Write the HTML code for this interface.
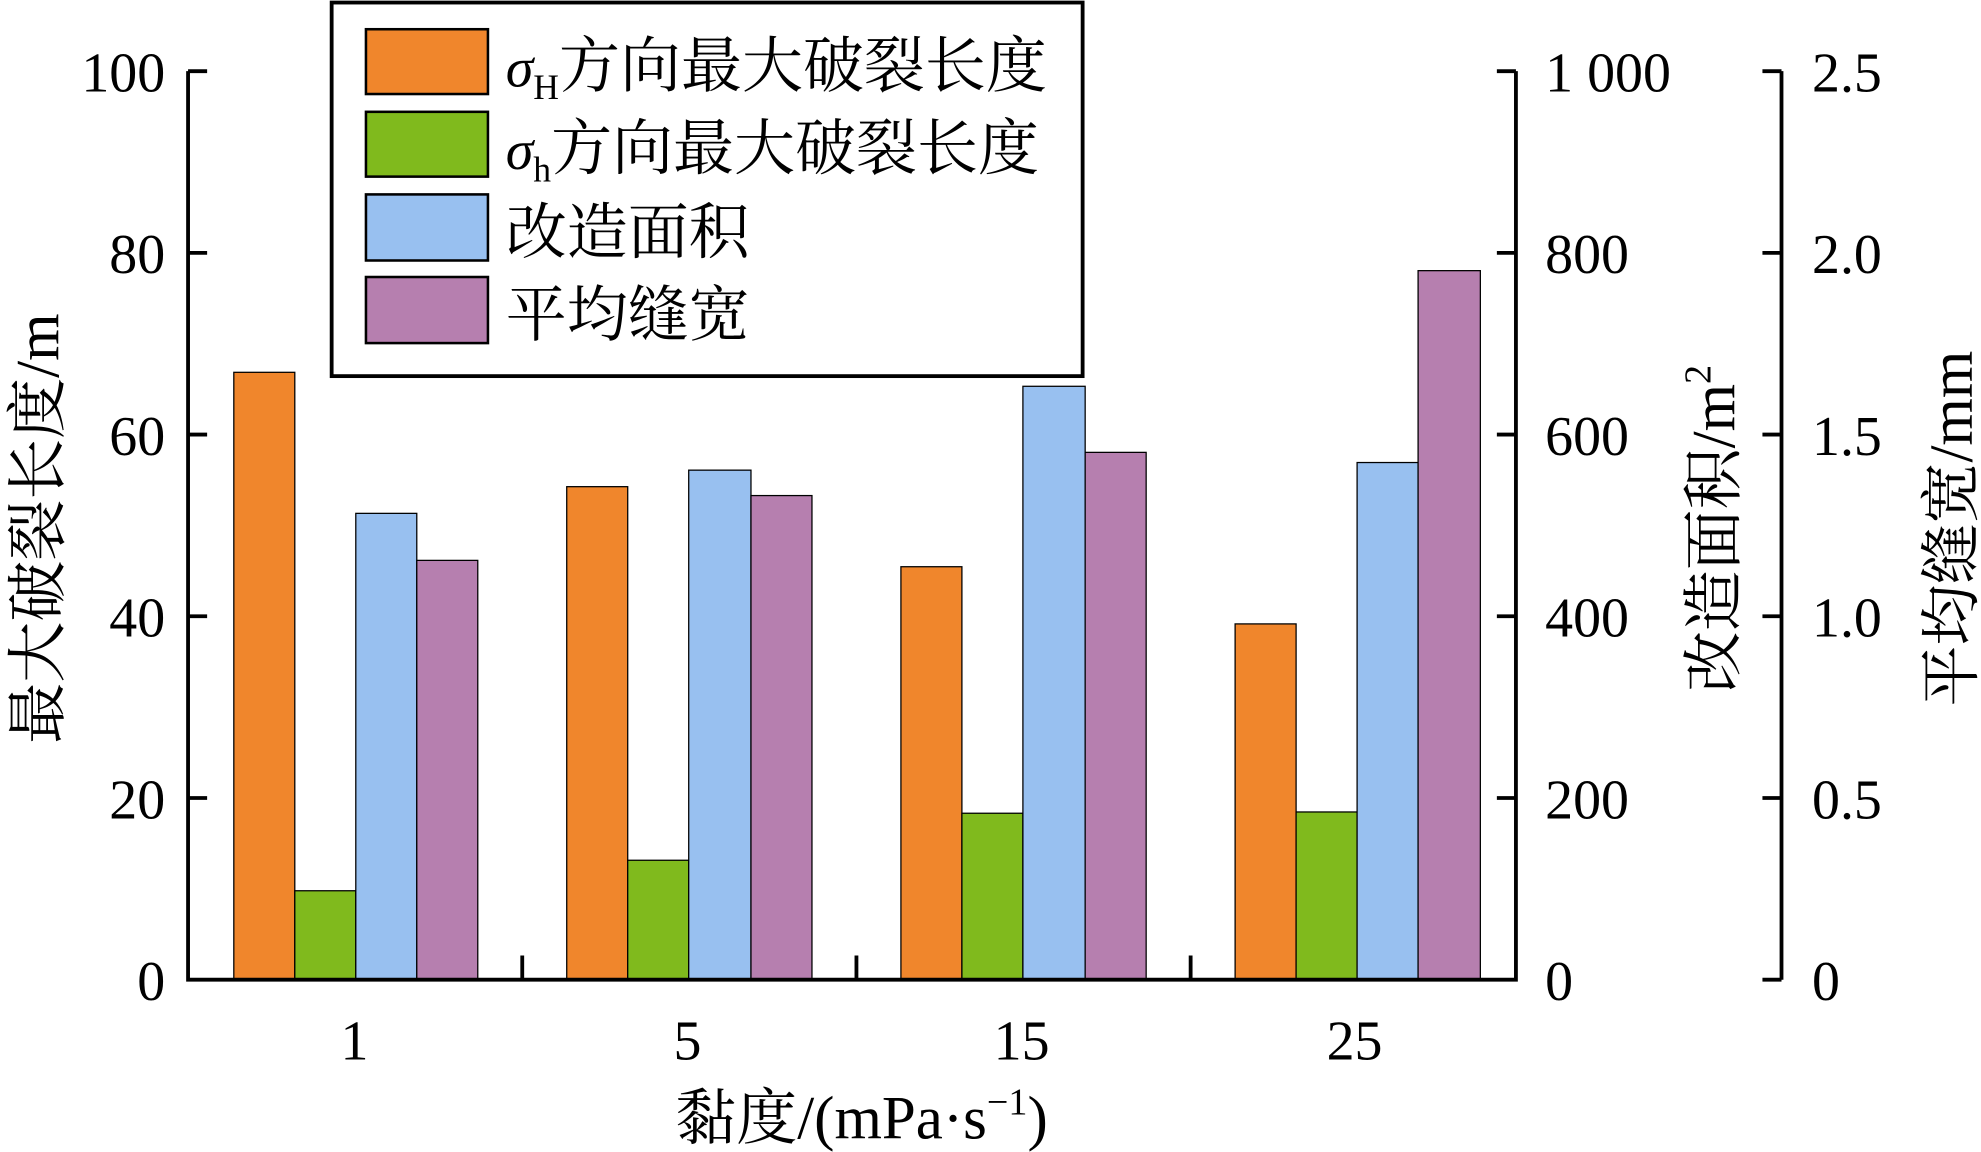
<!DOCTYPE html>
<html><head><meta charset="utf-8"><style>html,body{margin:0;padding:0;background:#fff}svg{display:block}</style></head>
<body>
<svg width="1981" height="1152" viewBox="0 0 1559 906.6" preserveAspectRatio="none" xmlns="http://www.w3.org/2000/svg" font-family="'Liberation Serif','Noto Serif CJK SC',serif" fill="#000">
<g stroke="#000" stroke-width="1">
<rect x="184" y="293" width="48" height="478" fill="#F0862C"/>
<rect x="232" y="701" width="48" height="70" fill="#80BA1D"/>
<rect x="280" y="404" width="48" height="367" fill="#98C0F0"/>
<rect x="328" y="441" width="48" height="330" fill="#B67FAF"/>
<rect x="446" y="383" width="48" height="388" fill="#F0862C"/>
<rect x="494" y="677" width="48" height="94" fill="#80BA1D"/>
<rect x="542" y="370" width="49" height="401" fill="#98C0F0"/>
<rect x="591" y="390" width="48" height="381" fill="#B67FAF"/>
<rect x="709" y="446" width="48" height="325" fill="#F0862C"/>
<rect x="757" y="640" width="48" height="131" fill="#80BA1D"/>
<rect x="805" y="304" width="49" height="467" fill="#98C0F0"/>
<rect x="854" y="356" width="48" height="415" fill="#B67FAF"/>
<rect x="972" y="491" width="48" height="280" fill="#F0862C"/>
<rect x="1020" y="639" width="48" height="132" fill="#80BA1D"/>
<rect x="1068" y="364" width="48" height="407" fill="#98C0F0"/>
<rect x="1116" y="213" width="49" height="558" fill="#B67FAF"/>
</g>
<g stroke="#000" stroke-width="3" fill="none">
<path d="M148,56 V771 H1193 V56"/>
<path d="M1402,56 V771"/>
<path d="M148,56h15 M148,199h15 M148,342h15 M148,485h15 M148,628h15"/>
<path d="M1193,56h-15 M1193,199h-15 M1193,342h-15 M1193,485h-15 M1193,628h-15"/>
<path d="M1402,56h-15 M1402,199h-15 M1402,342h-15 M1402,485h-15 M1402,628h-15 M1402,771h-15"/>
<path d="M411,771v-19 M674,771v-19 M937,771v-19"/>
<rect x="261" y="2" width="591" height="294" fill="#fff"/>
</g>
<g stroke="#000" stroke-width="2">
<rect x="288" y="23" width="96" height="51" fill="#F0862C"/>
<rect x="288" y="88" width="96" height="51" fill="#80BA1D"/>
<rect x="288" y="153" width="96" height="52" fill="#98C0F0"/>
<rect x="288" y="218" width="96" height="52" fill="#B67FAF"/>
</g>
<g font-size="48">
<text x="398" y="68"><tspan font-style="italic" font-size="44">σ</tspan><tspan font-size="28" dy="10">H</tspan><tspan dy="-10">方向最大破裂长度</tspan></text>
<text x="398" y="133"><tspan font-style="italic" font-size="44">σ</tspan><tspan font-size="28" dy="10">h</tspan><tspan dy="-10">方向最大破裂长度</tspan></text>
<text x="398" y="199">改造面积</text>
<text x="398" y="264">平均缝宽</text>
</g>
<g font-size="44" text-anchor="end">
<text x="130" y="72">100</text><text x="130" y="215">80</text><text x="130" y="358">60</text><text x="130" y="501">40</text><text x="130" y="644">20</text><text x="130" y="787">0</text>
</g>
<g font-size="44">
<text x="1216" y="72">1 000</text><text x="1216" y="215">800</text><text x="1216" y="358">600</text><text x="1216" y="501">400</text><text x="1216" y="644">200</text><text x="1216" y="787">0</text>
<text x="1426" y="72">2.5</text><text x="1426" y="215">2.0</text><text x="1426" y="358">1.5</text><text x="1426" y="501">1.0</text><text x="1426" y="644">0.5</text><text x="1426" y="787">0</text>
</g>
<g font-size="44" text-anchor="middle">
<text x="279" y="834">1</text><text x="541" y="834">5</text><text x="804" y="834">15</text><text x="1066" y="834">25</text>
</g>
<g font-size="48" text-anchor="middle">
<text x="678" y="896">黏度/(mPa·s<tspan font-size="30" dy="-19">−1</tspan><tspan dy="19">)</tspan></text>
<text transform="translate(46,416) rotate(-90)">最大破裂长度/m</text>
<text transform="translate(1365,416) rotate(-90)">改造面积/m<tspan font-size="30" dy="-19">2</tspan></text>
<text transform="translate(1552,416) rotate(-90)">平均缝宽/mm</text>
</g>
</svg>
</body></html>
